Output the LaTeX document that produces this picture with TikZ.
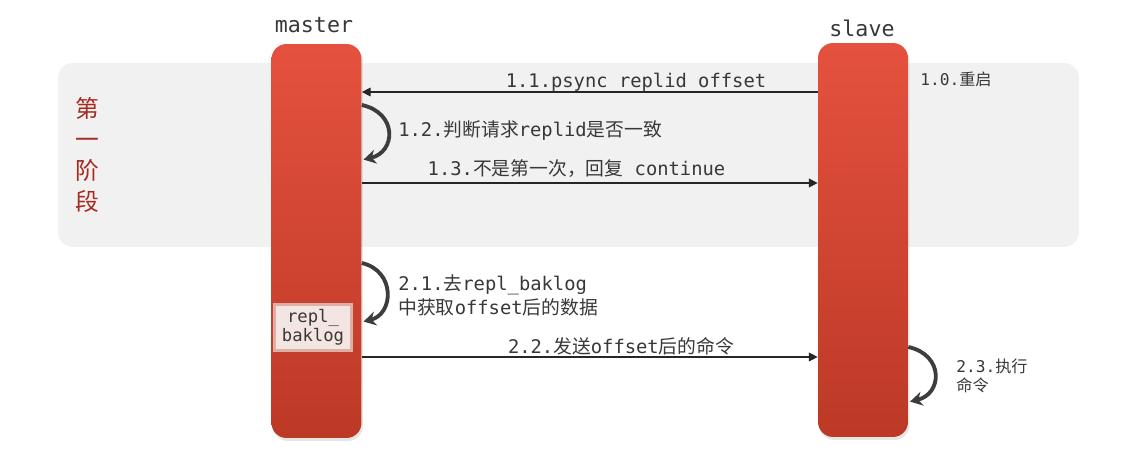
\documentclass[tikz,border=0pt]{standalone}
\usepackage{fontspec}
\setmainfont{DejaVu Sans Mono}
\newfontfamily\cjk{Noto Sans CJK SC}
\usepackage{tikz}
\usetikzlibrary{arrows.meta,shadows}
\definecolor{bartop}{HTML}{E5513F}
\definecolor{barbot}{HTML}{BC3926}
\definecolor{phase}{HTML}{F1F1F2}
\definecolor{stage}{HTML}{A52A20}
\definecolor{ink}{HTML}{383838}
\definecolor{loopc}{HTML}{3D3D3D}
\definecolor{logfill}{HTML}{F3E5E2}
\definecolor{logedge}{HTML}{DDB0A6}
\tikzset{
  bar/.style={rounded corners=0.3cm, top color=bartop, bottom color=barbot, draw=none,
    minimum width=1.8cm, minimum height=7.88cm,
    drop shadow={opacity=0.2, shadow xshift=0.03cm, shadow yshift=-0.06cm}},
  msg/.style={draw=black!85, line width=0.7pt, -{Triangle[length=5pt,width=5pt]}},
  selfloop/.style={draw=loopc, line width=2.2pt, shorten >=1pt, -{Stealth[length=7pt,width=8pt]}},
  lab/.style={text=ink, font=\fontsize{10.7}{13.6}\selectfont, inner sep=0pt, align=left},
  note/.style={text=ink, font=\fontsize{9.2}{10.8}\selectfont, inner sep=0pt, align=left},
  who/.style={text=ink, font=\fontsize{12.3}{14}\selectfont, inner sep=0pt},
  logbox/.style={fill=logfill, draw=logedge, line width=1.6pt,
    minimum width=1.55cm, minimum height=0.93cm, inner sep=0pt, align=center, text=ink,
    font=\fontsize{9.8}{10.8}\selectfont},
}

\begin{document}
\begin{tikzpicture}[x=0.02cm, y=-0.02cm]
\useasboundingbox (0,0) rectangle (1144,472);
% phase one
\fill[phase, rounded corners=0.3cm] (58,63) rectangle (1079,247);
\node[text=stage, font=\cjk\fontsize{13.5}{17.6}\selectfont, align=center, inner sep=0pt] (stage) at (87,155) {第\\一\\阶\\段};

% the two servers
\node[bar] (master) at (316.5,241) {};
\node[bar] (slave) at (863,240) {};
\node[who] (mname) at (314,25) {master};
\node[who] (sname) at (862,28) {slave};

% message levels
\coordinate (y11) at (0,92);
\coordinate (y12a) at (0,105);
\coordinate (y12b) at (0,160);
\coordinate (y13) at (0,183);
\coordinate (y21a) at (0,263);
\coordinate (y21b) at (0,322);
\coordinate (y22) at (0,357);
\coordinate (y23a) at (0,347);
\coordinate (y23b) at (0,402);

\draw[msg] (slave.west |- y11) -- (master.east |- y11);
\node[lab] (l11) at (636,82) {1.1.psync replid offset};
\node[note, anchor=west] (l10) at (920,79) {1.0.{\cjk 重启}};

\draw[selfloop] (master.east |- y12a) .. controls +(36,8) and +(34,-8) .. (master.east |- y12b);
\node[lab, anchor=west] (l12) at (398,131) {1.2.{\cjk 判断请求}replid{\cjk 是否一致}};

\draw[msg] (master.east |- y13) -- (slave.west |- y13);
\node[lab] (l13) at (576.5,169) {1.3.{\cjk 不是第一次，回复} continue};

% phase two
\node[logbox] (log) at (313,327.5) {repl\_\\baklog};

\draw[selfloop] (master.east |- y21a) .. controls +(34,8) and +(32,-8) .. (master.east |- y21b);
\node[lab, anchor=west] (l21) at (398,295) {2.1.{\cjk 去}repl\_baklog\\{\cjk 中获取}offset{\cjk 后的数据}};

\draw[msg] (master.east |- y22) -- (slave.west |- y22);
\node[lab] (l22) at (621,346) {2.2.{\cjk 发送}offset{\cjk 后的命令}};

\draw[selfloop] (slave.east |- y23a) .. controls +(36,8) and +(34,-8) .. (slave.east |- y23b);
\node[note, anchor=west] (l23) at (956,375.5) {2.3.{\cjk 执行}\\{\cjk 命令}};
\end{tikzpicture}
\end{document}
